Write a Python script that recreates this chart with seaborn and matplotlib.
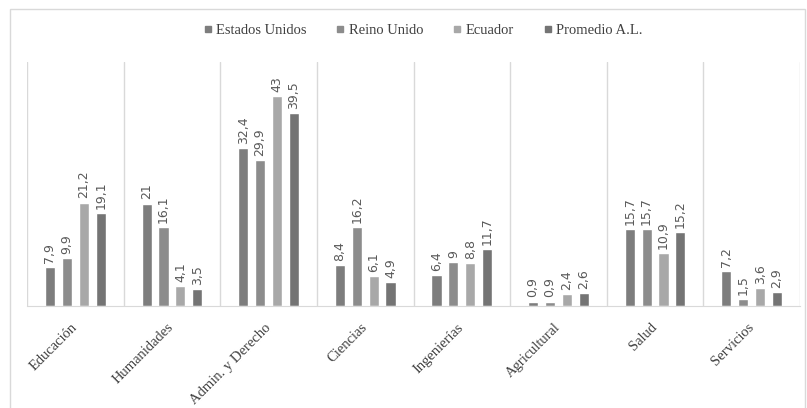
import pandas as pd
import numpy as np
import matplotlib
matplotlib.use("Agg")
import matplotlib.pyplot as plt
import seaborn as sns
from matplotlib.patches import Rectangle
from matplotlib.lines import Line2D

# data
categorias = ["Educación", "Humanidades", "Admin. y Derecho", "Ciencias",
              "Ingenierías", "Agricultural", "Salud", "Servicios"]
series = ["Estados Unidos", "Reino Unido", "Ecuador", "Promedio A.L."]
estados_unidos = [7.9, 21, 32.4, 8.4, 6.4, 0.9, 15.7, 7.2]
reino_unido = [9.9, 16.1, 29.9, 16.2, 9, 0.9, 15.7, 1.5]
ecuador = [21.2, 4.1, 43, 6.1, 8.8, 2.4, 10.9, 3.6]
promedio_al = [19.1, 3.5, 39.5, 4.9, 11.7, 2.6, 15.2, 2.9]
colores = ["#7d7d7d", "#8c8c8c", "#a8a8a8", "#747474"]

df = pd.DataFrame({
    "Area": categorias * 4,
    "Serie": [s for s in series for _ in categorias],
    "Valor": estados_unidos + reino_unido + ecuador + promedio_al,
})

sns.set_style("white")
plt.rcParams["font.family"] = ["Liberation Serif", "DejaVu Serif"]

fig = plt.figure(figsize=(8.07, 4.08), dpi=100)
ax = fig.add_axes([27 / 807, 1 - 306 / 408, 773 / 807, 244 / 408])

sns.barplot(data=df, x="Area", y="Valor", hue="Serie", palette=colores,
            width=0.7, gap=0.4, ax=ax, legend=False, saturation=1)

ax.set_ylim(0, 50)
ax.set_xlim(-0.5, len(categorias) - 0.5)
ax.set_yticks([])
ax.set_xlabel("")
ax.set_ylabel("")
for s in ["top", "right", "left"]:
    ax.spines[s].set_visible(False)
ax.spines["bottom"].set_color("#d9d9d9")

# vertical separators between categories
for x in np.arange(-0.5, len(categorias), 1.0):
    ax.axvline(x, color="#d9d9d9", lw=1, zorder=0)

ax.set_xticks(range(len(categorias)))
ax.set_xticklabels(categorias, rotation=45, ha="right", va="center",
                   rotation_mode="anchor", fontsize=10.5, color="#404040")
ax.tick_params(axis="x", length=0, pad=14)

def fmt(v):
    return str(int(v)) if float(v).is_integer() else f"{v:.1f}".replace(".", ",")

for cont in ax.containers:
    for bar in cont:
        h = bar.get_height()
        ax.annotate(fmt(h), (bar.get_x() + bar.get_width() / 2, h),
                    xytext=(0, 3), textcoords="offset points", rotation=90,
                    ha="center", va="bottom", fontsize=9, color="#595959",
                    family="DejaVu Sans")

handles = [Line2D([], [], marker="s", linestyle="none", markersize=5,
                  markerfacecolor=c, markeredgecolor=c) for c in colores]
fig.legend(handles, series, loc="center", bbox_to_anchor=(423 / 807, 1 - 30 / 408),
           ncol=4, frameon=False, fontsize=10.5, handlelength=0.6,
           handletextpad=0.3, columnspacing=2.0, labelcolor="#404040")

# outer chart frame
fig.patches.append(Rectangle((10 / 807, -0.01), 795 / 807, 1 - 9 / 408 + 0.01,
                             transform=fig.transFigure, fill=False,
                             edgecolor="#d9d9d9", lw=1))

fig.savefig("out.png", dpi=100)
